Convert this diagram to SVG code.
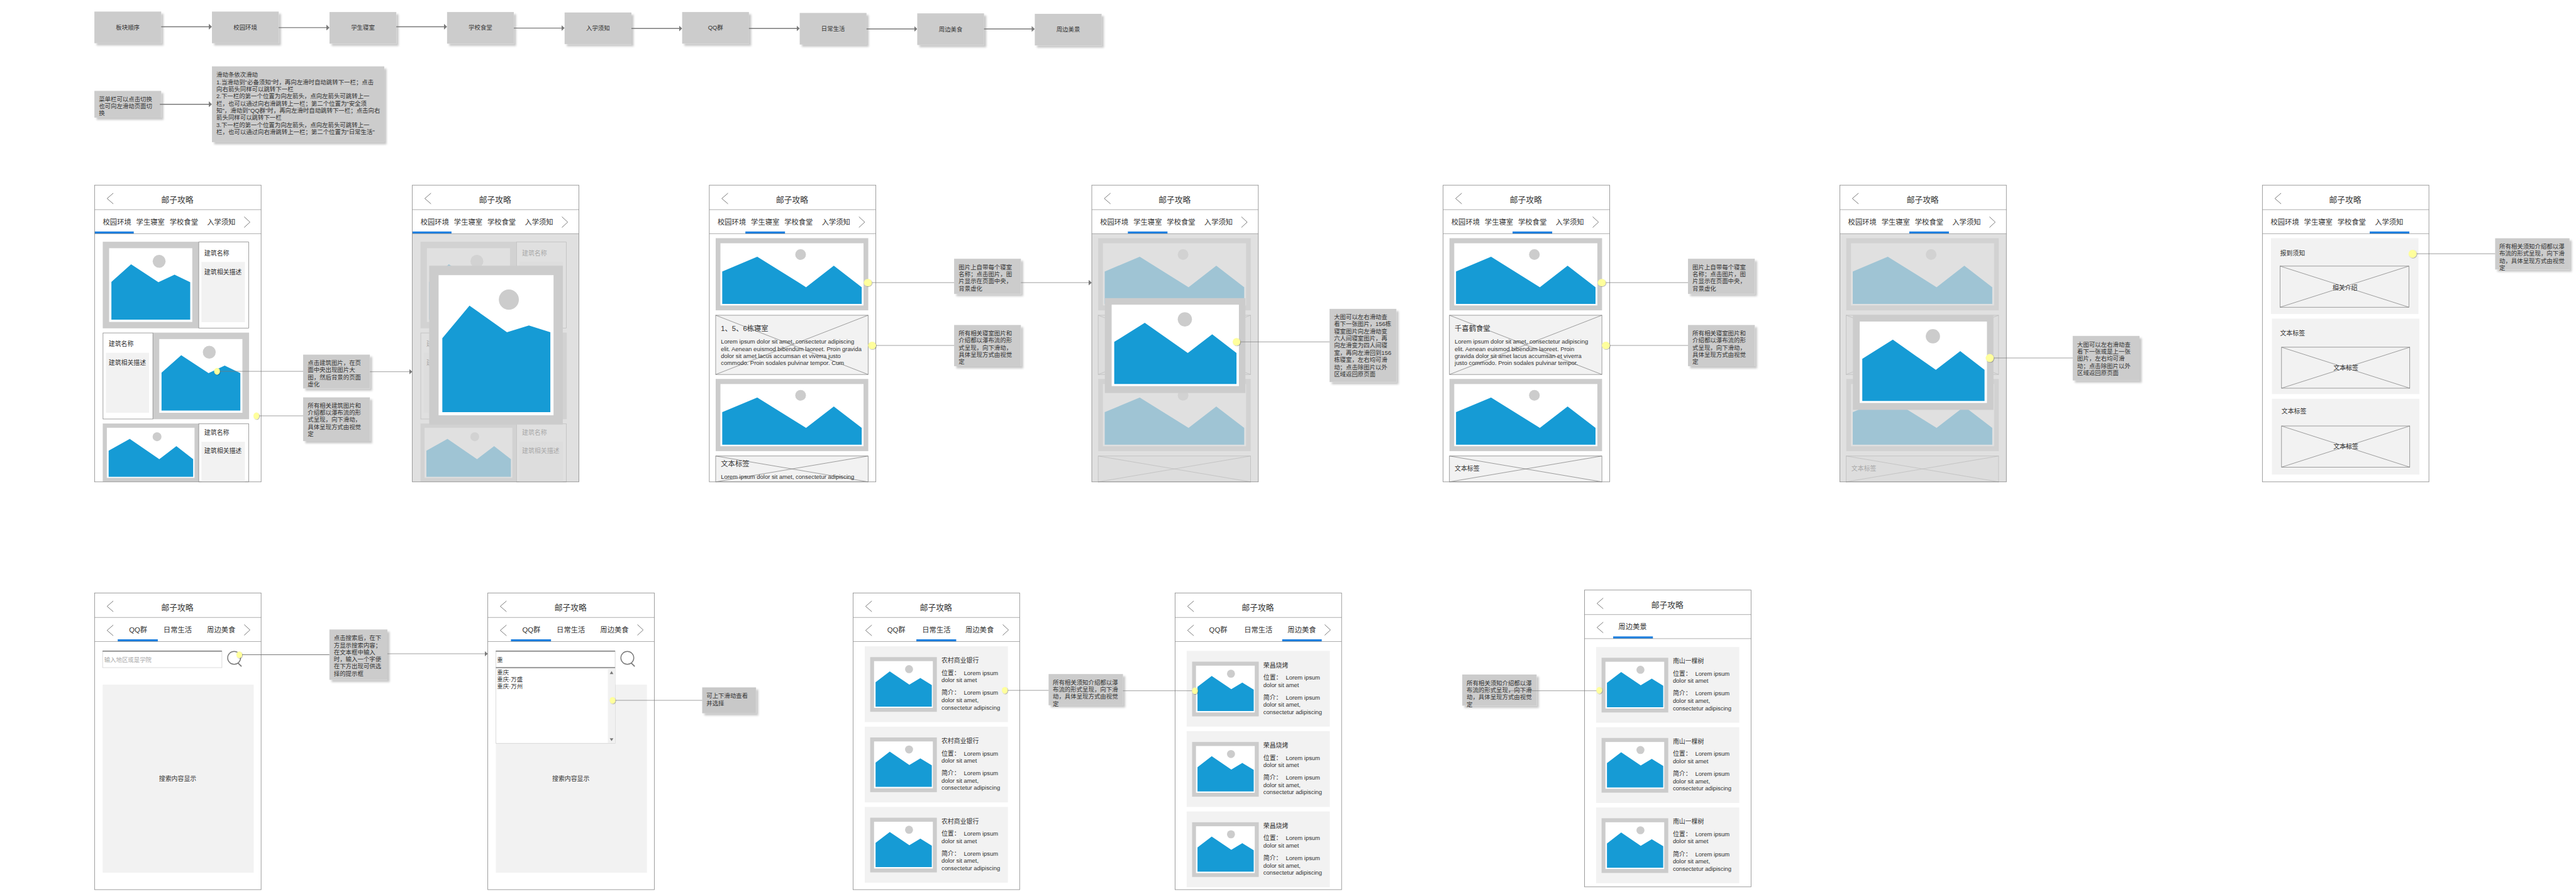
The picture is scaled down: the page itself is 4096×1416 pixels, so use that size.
<svg xmlns="http://www.w3.org/2000/svg" width="4096" height="1416" viewBox="0 0 4096 1416">
<style>
text{font-family:"Liberation Sans","Noto Sans CJK SC",sans-serif;fill:#333;dominant-baseline:central}
.m{text-anchor:middle}
.t18{font-size:18px}.t16{font-size:16px}.t14{font-size:14px}.n{font-size:13.33px}.la{font-size:13.33px}
.box{fill:#ccc;filter:url(#sh)}
.fr{fill:#fff;stroke:none}
.edge{fill:none;stroke:#8c8c8c;stroke-width:1.2}
.ln{stroke:#797979;stroke-width:1;fill:none}
.chev{stroke:#797979;stroke-width:1.4;fill:none}
.blue{fill:#1e80e0}
.gr{fill:#ccc}.wh{fill:#fff}.lt{fill:#f2f2f2}.mt{fill:#169bd5}
.xb{fill:#f2f2f2;stroke:#797979;stroke-width:1}
.pn{fill:#fff;stroke:#797979;stroke-width:1}
.ov{fill:rgba(212,212,212,.72)}
.flow{stroke:#797979;stroke-width:2;fill:none;marker-end:url(#ah)}
.con{stroke:#797979;stroke-width:1;fill:none}
.arr{stroke:#797979;stroke-width:1;fill:none;marker-end:url(#ah2)}
.dot{fill:#ffff9c;filter:url(#ds)}
</style>
<defs>
<filter id="sh" x="-20%" y="-20%" width="140%" height="140%"><feDropShadow dx="5" dy="5" stdDeviation="2.5" flood-color="#000" flood-opacity=".22"/></filter>
<filter id="ds" x="-50%" y="-50%" width="200%" height="200%"><feDropShadow dx="1" dy="1" stdDeviation="1" flood-color="#000" flood-opacity=".4"/></filter>
<marker id="ah" markerUnits="userSpaceOnUse" markerWidth="7" markerHeight="13" refX="2" refY="6.5" orient="auto"><path d="M0 0L7 6.5L0 13Z" fill="#797979"/></marker>
<marker id="ah2" markerUnits="userSpaceOnUse" markerWidth="7" markerHeight="13" refX="2" refY="6.5" orient="auto"><path d="M0 0.5L7 6.5L0 12.5Z" fill="#797979"/></marker>
<g id="shell"><rect class="fr" width="374" height="666"/></g>
<g id="edge"><rect class="edge" width="374" height="666"/><path class="ln" d="M0 55H374M0 109H374" style="stroke:#8c8c8c"/></g>
<path id="back" class="chev" d="M42 18L28 30L42 42"/>
<path id="chev-r" class="chev" d="M336 71L349 83L336 95"/>
<path id="chev-l" class="chev" d="M42 72L28 84L42 96"/>
<g id="img-a"><rect class="gr" width="216" height="194.4"/><rect class="wh" x="14.3" y="14.5" width="186.7" height="165.5"/><ellipse class="gr" cx="126.6" cy="44" rx="14.5" ry="14.5"/><polygon class="mt" points="19.4,90 63.6,50.7 125,90.9 161.2,73.9 196.4,90.9 196.4,175 19.4,175"/></g>
<g id="img-c"><rect class="gr" width="215.6" height="131"/><rect class="wh" x="9.2" y="9.6" width="196.9" height="112.4"/><ellipse class="gr" cx="121.9" cy="29.7" rx="10" ry="10"/><polygon class="mt" points="13.2,61 60.6,34.6 127,80 165.3,50.7 203,80 203,119.5 13.2,119.5"/></g>
<g id="img-w"><rect class="gr" width="342.7" height="162"/><rect class="wh" x="10.7" y="11.4" width="321.4" height="139.6"/><ellipse class="gr" cx="190.7" cy="36.8" rx="12" ry="12"/><polygon class="mt" points="14.7,74.7 93.4,41.7 203,110 265.3,61.8 328,110 328,147.5 14.7,147.5"/></g>
<g id="img-p"><rect class="gr" width="315.7" height="212.9"/><rect class="wh" x="15.3" y="14.7" width="285.8" height="182.7"/><ellipse class="gr" cx="179.7" cy="47.7" rx="16" ry="16"/><polygon class="mt" points="21.1,98.2 89.7,55.4 186.3,123.2 241.1,81.2 295.7,123.2 295.7,192.8 21.1,192.8"/></g>
<g id="img-s"><rect class="gr" width="149.7" height="122.8"/><rect class="wh" x="8.7" y="9" width="132" height="105"/><ellipse class="gr" cx="87.3" cy="27" rx="9" ry="9"/><polygon class="mt" points="12.1,56.5 44,32 88,61.8 112.7,47 138.4,62.7 138.4,111 12.1,111"/></g>
<g id="search"><circle class="chev" cx="313.4" cy="145.7" r="14.5" style="stroke-width:2"/><path class="chev" d="M322 157L330 165" style="stroke-width:2.5"/></g>
</defs>
<rect width="4096" height="1416" fill="#fff"/>
<g transform="scale(0.708)">
<g id="flow-nodes">
<g id="flow-1"><rect class="box" x="212" y="26" width="150" height="71"/><text class="n m" x="287" y="61">板块顺序</text></g>
<g id="flow-2"><rect class="box" x="476" y="26" width="150" height="71"/><text class="n m" x="551" y="61">校园环境</text></g>
<g id="flow-3"><rect class="box" x="740" y="27" width="150" height="71"/><text class="n m" x="815" y="62">学生寝室</text></g>
<g id="flow-4"><rect class="box" x="1004" y="27" width="150" height="71"/><text class="n m" x="1079" y="62">学校食堂</text></g>
<g id="flow-5"><rect class="box" x="1268" y="28" width="150" height="71"/><text class="n m" x="1343" y="63">入学须知</text></g>
<g id="flow-6"><rect class="box" x="1532" y="27" width="150" height="71"/><text class="n m" x="1607" y="62">QQ群</text></g>
<g id="flow-7"><rect class="box" x="1796" y="29" width="150" height="71"/><text class="n m" x="1871" y="64">日常生活</text></g>
<g id="flow-8"><rect class="box" x="2060" y="30" width="150" height="71"/><text class="n m" x="2135" y="65">周边美食</text></g>
<g id="flow-9"><rect class="box" x="2324" y="31" width="150" height="71"/><text class="n m" x="2399" y="66">周边美景</text></g>
<g id="note-menu"><rect class="box" x="212" y="204" width="150" height="60"/><text class="n" x="222" y="222">菜单栏可以点击切换</text><text class="n" x="222" y="238">也可向左滑动页面切</text><text class="n" x="222" y="254">换</text></g>
<g id="note-slide"><rect class="box" x="476" y="149" width="387" height="170"/>
<text class="n" x="486" y="168">滑动条依次滑动</text>
<text class="n" x="486" y="184">1.当滑动到"必备须知"时，再向左滑时自动跳转下一栏；点击</text>
<text class="n" x="486" y="200">向右箭头同样可以跳转下一栏</text>
<text class="n" x="486" y="216">2.下一栏的第一个位置为向左箭头，点向左箭头可跳转上一</text>
<text class="n" x="486" y="232">栏，也可以通过向右滑跳转上一栏；第二个位置为"安全须</text>
<text class="n" x="486" y="248">知"，滑动到"QQ群"时，再向左滑时自动跳转下一栏；点击向右</text>
<text class="n" x="486" y="264">箭头同样可以跳转下一栏</text>
<text class="n" x="486" y="280">3.下一栏的第一个位置为向左箭头，点向左箭头可跳转上一</text>
<text class="n" x="486" y="296">栏，也可以通过向右滑跳转上一栏；第二个位置为"日常生活"</text></g>
</g>

<g id="screen-1" transform="translate(212.4,415.6)">
<use href="#shell"/><use href="#back"/><use href="#chev-r"/>
<text class="t18 m" x="186" y="33">邮子攻略</text>
<text class="t16 m" x="50.5" y="83">校园环境</text><text class="t16 m" x="125.5" y="83">学生寝室</text><text class="t16 m" x="200.5" y="83">学校食堂</text><text class="t16 m" x="284.5" y="83">入学须知</text>
<rect class="blue" x="0" y="104" width="88" height="5"/>
<use href="#img-a" x="18.4" y="127"/>
<rect class="pn" x="234" y="127.7" width="112" height="193.3"/><text class="t14" x="246.4" y="153">建筑名称</text><rect class="lt" x="240" y="172.3" width="97.8" height="135.3"/><text class="t14" x="246.4" y="194.7">建筑相关描述</text>
<use href="#img-a" x="131" y="331"/>
<rect class="pn" x="19" y="331.7" width="112" height="193.3"/><text class="t14" x="31.6" y="357">建筑名称</text><rect class="lt" x="25.5" y="376.3" width="96.9" height="134.7"/><text class="t14" x="31.6" y="398.7">建筑相关描述</text>
<use href="#img-c" x="18.4" y="535"/>
<rect class="pn" x="234" y="535.7" width="112" height="130.3"/><text class="t14" x="246.4" y="555">建筑名称</text><rect class="lt" x="240" y="576" width="97.8" height="90"/><text class="t14" x="246.4" y="597">建筑相关描述</text>
<use href="#edge"/>
</g>

<g id="screen-2" transform="translate(926,415.6)">
<use href="#shell"/><use href="#back"/><use href="#chev-r"/>
<text class="t18 m" x="186" y="33">邮子攻略</text>
<text class="t16 m" x="50.5" y="83">校园环境</text><text class="t16 m" x="125.5" y="83">学生寝室</text><text class="t16 m" x="200.5" y="83">学校食堂</text><text class="t16 m" x="284.5" y="83">入学须知</text>
<rect class="blue" x="0" y="104" width="88" height="5"/>
<use href="#img-a" x="18.4" y="127"/>
<rect class="pn" x="234" y="127.7" width="112" height="193.3"/><text class="t14" x="246.4" y="153">建筑名称</text><rect class="lt" x="240" y="172.3" width="97.8" height="135.3"/>
<use href="#img-a" x="131" y="331"/>
<rect class="pn" x="19" y="331.7" width="112" height="193.3"/><text class="t14" x="31.6" y="357">建筑名称</text><rect class="lt" x="25.5" y="376.3" width="96.9" height="134.7"/><text class="t14" x="31.6" y="398.7">建筑相关描述</text>
<use href="#img-c" x="18.4" y="535"/>
<rect class="pn" x="234" y="535.7" width="112" height="130.3"/><text class="t14" x="246.4" y="555">建筑名称</text><rect class="lt" x="240" y="576" width="97.8" height="90"/><text class="t14" x="246.4" y="597">建筑相关描述</text>
<rect class="ov" x="0" y="109" width="374" height="557"/>
<rect class="gr" x="37.9" y="180.8" width="300.1" height="356.7"/><rect class="wh" x="59" y="202" width="258.2" height="314.5"/><ellipse class="gr" cx="216.8" cy="257" rx="22.5" ry="22.8"/><polygon class="mt" points="67.4,343.7 128.4,270.5 212.6,330 261.8,315 310,330 310,509.4 67.4,509.4"/>
<use href="#edge"/>
</g>

<g id="screen-3" transform="translate(1593,415.6)">
<use href="#shell"/><use href="#back"/><use href="#chev-r"/>
<text class="t18 m" x="186" y="33">邮子攻略</text>
<text class="t16 m" x="50.5" y="83">校园环境</text><text class="t16 m" x="125.5" y="83">学生寝室</text><text class="t16 m" x="200.5" y="83">学校食堂</text><text class="t16 m" x="284.5" y="83">入学须知</text>
<rect class="blue" x="81" y="104" width="89" height="5"/>
<use href="#img-w" x="14.3" y="119"/>
<rect class="xb" x="14.3" y="292" width="342.3" height="133"/><path class="ln" d="M14.3 292L356.6 425M356.6 292L14.3 425"/>
<text class="t16" x="26" y="322.3">1、5、6栋寝室</text>
<text class="la" x="26" y="351">Lorem ipsum dolor sit amet, consectetur adipiscing</text><text class="la" x="26" y="367">elit. Aenean euismod bibendum laoreet. Proin gravida</text><text class="la" x="26" y="383">dolor sit amet lacus accumsan et viverra justo</text><text class="la" x="26" y="399">commodo. Proin sodales pulvinar tempor. Cum</text>
<use href="#img-w" x="14.3" y="435"/>
<rect class="xb" x="14.3" y="608" width="342.3" height="58"/><path class="ln" d="M14.3 608L356.6 666M356.6 608L14.3 666"/>
<text class="t16" x="26" y="625">文本标签</text><text class="la" x="26" y="654">Lorem ipsum dolor sit amet, consectetur adipiscing</text>
<use href="#edge"/>
</g>

<g id="screen-4" transform="translate(2452,415.6)">
<use href="#shell"/><use href="#back"/><use href="#chev-r"/>
<text class="t18 m" x="186" y="33">邮子攻略</text>
<text class="t16 m" x="50.5" y="83">校园环境</text><text class="t16 m" x="125.5" y="83">学生寝室</text><text class="t16 m" x="200.5" y="83">学校食堂</text><text class="t16 m" x="284.5" y="83">入学须知</text>
<rect class="blue" x="81" y="104" width="89" height="5"/>
<use href="#img-w" x="14.3" y="119"/>
<rect class="xb" x="14.3" y="292" width="342.3" height="133"/><path class="ln" d="M14.3 292L356.6 425M356.6 292L14.3 425"/>
<use href="#img-w" x="14.3" y="435"/>
<rect class="xb" x="14.3" y="608" width="342.3" height="58"/><path class="ln" d="M14.3 608L356.6 666M356.6 608L14.3 666"/>
<rect class="ov" x="0" y="109" width="374" height="557"/>
<use href="#img-p" x="29.3" y="253.6"/>
<use href="#edge"/>
</g>

<g id="screen-5" transform="translate(3241,415.6)">
<use href="#shell"/><use href="#back"/><use href="#chev-r"/>
<text class="t18 m" x="186" y="33">邮子攻略</text>
<text class="t16 m" x="50.5" y="83">校园环境</text><text class="t16 m" x="125.5" y="83">学生寝室</text><text class="t16 m" x="200.5" y="83">学校食堂</text><text class="t16 m" x="284.5" y="83">入学须知</text>
<rect class="blue" x="156" y="104" width="89" height="5"/>
<use href="#img-w" x="14.3" y="119"/>
<rect class="xb" x="14.3" y="292" width="342.3" height="133"/><path class="ln" d="M14.3 292L356.6 425M356.6 292L14.3 425"/>
<text class="t16" x="26" y="322.3">千喜鹤食堂</text>
<text class="la" x="26" y="351">Lorem ipsum dolor sit amet, consectetur adipiscing</text><text class="la" x="26" y="367">elit. Aenean euismod bibendum laoreet. Proin</text><text class="la" x="26" y="383">gravida dolor sit amet lacus accumsan et viverra</text><text class="la" x="26" y="399">justo commodo. Proin sodales pulvinar tempor.</text>
<use href="#img-w" x="14.3" y="435"/>
<rect class="xb" x="14.3" y="608" width="342.3" height="58"/><path class="ln" d="M14.3 608L356.6 666M356.6 608L14.3 666"/>
<text class="t14" x="26" y="636">文本标签</text>
<use href="#edge"/>
</g>

<g id="screen-6" transform="translate(4132,415.6)">
<use href="#shell"/><use href="#back"/><use href="#chev-r"/>
<text class="t18 m" x="186" y="33">邮子攻略</text>
<text class="t16 m" x="50.5" y="83">校园环境</text><text class="t16 m" x="125.5" y="83">学生寝室</text><text class="t16 m" x="200.5" y="83">学校食堂</text><text class="t16 m" x="284.5" y="83">入学须知</text>
<rect class="blue" x="156" y="104" width="89" height="5"/>
<use href="#img-w" x="14.3" y="119"/>
<rect class="xb" x="14.3" y="292" width="342.3" height="133"/><path class="ln" d="M14.3 292L356.6 425M356.6 292L14.3 425"/>
<use href="#img-w" x="14.3" y="435"/>
<rect class="xb" x="14.3" y="608" width="342.3" height="58"/><path class="ln" d="M14.3 608L356.6 666M356.6 608L14.3 666"/>
<text class="t14" x="26" y="636">文本标签</text>
<rect class="ov" x="0" y="109" width="374" height="557"/>
<use href="#img-p" x="29.3" y="291.5"/>
<use href="#edge"/>
</g>

<g id="screen-7" transform="translate(5081,415.6)">
<use href="#shell"/><use href="#back"/>
<text class="t18 m" x="186" y="33">邮子攻略</text>
<text class="t16 m" x="50.5" y="83">校园环境</text><text class="t16 m" x="125.5" y="83">学生寝室</text><text class="t16 m" x="200.5" y="83">学校食堂</text><text class="t16 m" x="284.5" y="83">入学须知</text>
<rect class="blue" x="241" y="104" width="89" height="5"/>
<rect class="lt" x="19.3" y="119" width="331.2" height="170.3"/><text class="t14" x="39.7" y="153.6">报到须知</text>
<rect class="xb" x="39.7" y="181.7" width="289.3" height="92.3"/><path class="ln" d="M39.7 181.7L329 274M329 181.7L39.7 274"/><text class="t14 m" x="185.4" y="230">相关介绍</text>
<rect class="lt" x="21.4" y="299.6" width="331.2" height="169.4"/><text class="t14" x="39.7" y="332">文本标签</text>
<rect class="xb" x="43" y="363.8" width="288" height="92"/><path class="ln" d="M43 363.8L331 455.8M331 363.8L43 455.8"/><text class="t14 m" x="187.5" y="409.4">文本标签</text>
<rect class="lt" x="21.4" y="479.5" width="331.2" height="170.1"/><text class="t14" x="43" y="508">文本标签</text>
<rect class="xb" x="43" y="540.6" width="288" height="92.4"/><path class="ln" d="M43 540.6L331 633M331 540.6L43 633"/><text class="t14 m" x="187.5" y="586.6">文本标签</text>
<use href="#edge"/>
</g>

<g id="screen-a" transform="translate(212.4,1331)">
<use href="#shell"/><use href="#back"/><use href="#chev-l"/><use href="#chev-r"/>
<text class="t18 m" x="186" y="33">邮子攻略</text>
<text class="t16 m" x="97.8" y="83.4">QQ群</text><text class="t16 m" x="186.6" y="83.4">日常生活</text><text class="t16 m" x="284.4" y="83.4">周边美食</text>
<rect class="blue" x="52" y="104" width="90" height="5"/>
<rect x="18" y="130.6" width="268" height="37" fill="#fff" stroke="#ccc"/><path class="ln" d="M18 130.6H286" style="stroke-width:2"/>
<text class="n" x="21.6" y="150.5" style="fill:#aaa">输入地区或是学院</text>
<use href="#search"/>
<rect class="lt" x="18.2" y="205.8" width="339.2" height="422.1"/><text class="t14 m" x="186.6" y="416.8">搜索内容显示</text>
<use href="#edge"/>
</g>

<g id="screen-b" transform="translate(1095.5,1331)">
<use href="#shell"/><use href="#back"/><use href="#chev-l"/><use href="#chev-r"/>
<text class="t18 m" x="186" y="33">邮子攻略</text>
<text class="t16 m" x="97.8" y="83.4">QQ群</text><text class="t16 m" x="186.6" y="83.4">日常生活</text><text class="t16 m" x="284.4" y="83.4">周边美食</text>
<rect class="blue" x="52" y="104" width="90" height="5"/>
<rect class="lt" x="18.2" y="205.8" width="339.2" height="422.1"/><text class="t14 m" x="186.6" y="416.8">搜索内容显示</text>
<rect x="18" y="130.6" width="268" height="37" fill="#fff" stroke="#ccc"/><path class="ln" d="M18 130.6H286M18 167.6H286" style="stroke-width:2"/>
<text class="n" x="20.7" y="150.5">重</text>
<use href="#search"/>
<rect x="18" y="169" width="268" height="168.4" fill="#fff" stroke="#ccc"/>
<rect x="269.7" y="169.5" width="16" height="167.5" fill="#f1f1f1"/>
<polygon points="274,182 282,182 278,175.5" fill="#797979"/><polygon points="274,326 282,326 278,332.5" fill="#797979"/>
<text class="n" x="20.7" y="177.7">重庆</text><text class="n" x="20.7" y="193.5">重庆·万盛</text><text class="n" x="20.7" y="209.7">重庆·万州</text>
<use href="#edge"/>
</g>

<g id="screen-c" transform="translate(1916,1331)">
<use href="#shell"/><use href="#back"/><use href="#chev-l"/><use href="#chev-r"/>
<text class="t18 m" x="186" y="33">邮子攻略</text>
<text class="t16 m" x="97" y="83.4">QQ群</text><text class="t16 m" x="187" y="83.4">日常生活</text><text class="t16 m" x="284" y="83.4">周边美食</text>
<rect class="blue" x="142" y="104" width="89.5" height="5"/>
<g><rect class="lt" x="26" y="119.8" width="321.6" height="170"/><use href="#img-s" x="38.3" y="144"/><text class="t14" x="198.3" y="151.8">农村商业银行</text><text class="t14" x="198.3" y="179.5">位置：</text><text class="la" x="248.7" y="179.5">Lorem ipsum</text><text class="la" x="198.3" y="195.7">dolor sit amet</text><text class="t14" x="198.3" y="224">简介：</text><text class="la" x="248.7" y="224">Lorem ipsum</text><text class="la" x="198.3" y="240.5">dolor sit amet,</text><text class="la" x="198.3" y="256.7">consectetur adipiscing</text></g>
<g transform="translate(0,180.3)"><rect class="lt" x="26" y="119.8" width="321.6" height="170"/><use href="#img-s" x="38.3" y="144"/><text class="t14" x="198.3" y="151.8">农村商业银行</text><text class="t14" x="198.3" y="179.5">位置：</text><text class="la" x="248.7" y="179.5">Lorem ipsum</text><text class="la" x="198.3" y="195.7">dolor sit amet</text><text class="t14" x="198.3" y="224">简介：</text><text class="la" x="248.7" y="224">Lorem ipsum</text><text class="la" x="198.3" y="240.5">dolor sit amet,</text><text class="la" x="198.3" y="256.7">consectetur adipiscing</text></g>
<g transform="translate(0,360.5)"><rect class="lt" x="26" y="119.8" width="321.6" height="170"/><use href="#img-s" x="38.3" y="144"/><text class="t14" x="198.3" y="151.8">农村商业银行</text><text class="t14" x="198.3" y="179.5">位置：</text><text class="la" x="248.7" y="179.5">Lorem ipsum</text><text class="la" x="198.3" y="195.7">dolor sit amet</text><text class="t14" x="198.3" y="224">简介：</text><text class="la" x="248.7" y="224">Lorem ipsum</text><text class="la" x="198.3" y="240.5">dolor sit amet,</text><text class="la" x="198.3" y="256.7">consectetur adipiscing</text></g>
<use href="#edge"/>
</g>

<g id="screen-d" transform="translate(2639,1331)">
<use href="#shell"/><use href="#back"/><use href="#chev-l"/><use href="#chev-r"/>
<text class="t18 m" x="186" y="33">邮子攻略</text>
<text class="t16 m" x="97" y="83.4">QQ群</text><text class="t16 m" x="187" y="83.4">日常生活</text><text class="t16 m" x="284.7" y="83.4">周边美食</text>
<rect class="blue" x="240.6" y="104" width="88.8" height="5"/>
<g transform="translate(0,10.2)"><rect class="lt" x="26" y="119.8" width="321.6" height="170"/><use href="#img-s" x="38.3" y="144"/><text class="t14" x="198.3" y="151.8">荣昌烧烤</text><text class="t14" x="198.3" y="179.5">位置：</text><text class="la" x="248.7" y="179.5">Lorem ipsum</text><text class="la" x="198.3" y="195.7">dolor sit amet</text><text class="t14" x="198.3" y="224">简介：</text><text class="la" x="248.7" y="224">Lorem ipsum</text><text class="la" x="198.3" y="240.5">dolor sit amet,</text><text class="la" x="198.3" y="256.7">consectetur adipiscing</text></g>
<g transform="translate(0,190.5)"><rect class="lt" x="26" y="119.8" width="321.6" height="170"/><use href="#img-s" x="38.3" y="144"/><text class="t14" x="198.3" y="151.8">荣昌烧烤</text><text class="t14" x="198.3" y="179.5">位置：</text><text class="la" x="248.7" y="179.5">Lorem ipsum</text><text class="la" x="198.3" y="195.7">dolor sit amet</text><text class="t14" x="198.3" y="224">简介：</text><text class="la" x="248.7" y="224">Lorem ipsum</text><text class="la" x="198.3" y="240.5">dolor sit amet,</text><text class="la" x="198.3" y="256.7">consectetur adipiscing</text></g>
<g transform="translate(0,370.7)"><rect class="lt" x="26" y="119.8" width="321.6" height="170"/><use href="#img-s" x="38.3" y="144"/><text class="t14" x="198.3" y="151.8">荣昌烧烤</text><text class="t14" x="198.3" y="179.5">位置：</text><text class="la" x="248.7" y="179.5">Lorem ipsum</text><text class="la" x="198.3" y="195.7">dolor sit amet</text><text class="t14" x="198.3" y="224">简介：</text><text class="la" x="248.7" y="224">Lorem ipsum</text><text class="la" x="198.3" y="240.5">dolor sit amet,</text><text class="la" x="198.3" y="256.7">consectetur adipiscing</text></g>
<use href="#edge"/>
</g>

<g id="screen-e" transform="translate(3558.6,1324.5)">
<use href="#shell"/><use href="#back"/><use href="#chev-l"/>
<text class="t18 m" x="186" y="33">邮子攻略</text>
<text class="t16 m" x="108" y="83">周边美景</text>
<rect class="blue" x="64.3" y="104" width="89.3" height="5"/>
<g transform="translate(0,7.9)"><rect class="lt" x="26" y="119.8" width="321.6" height="170"/><use href="#img-s" x="38.3" y="144"/><text class="t14" x="198.3" y="151.8">南山一棵树</text><text class="t14" x="198.3" y="179.5">位置：</text><text class="la" x="248.7" y="179.5">Lorem ipsum</text><text class="la" x="198.3" y="195.7">dolor sit amet</text><text class="t14" x="198.3" y="224">简介：</text><text class="la" x="248.7" y="224">Lorem ipsum</text><text class="la" x="198.3" y="240.5">dolor sit amet,</text><text class="la" x="198.3" y="256.7">consectetur adipiscing</text></g>
<g transform="translate(0,188)"><rect class="lt" x="26" y="119.8" width="321.6" height="170"/><use href="#img-s" x="38.3" y="144"/><text class="t14" x="198.3" y="151.8">南山一棵树</text><text class="t14" x="198.3" y="179.5">位置：</text><text class="la" x="248.7" y="179.5">Lorem ipsum</text><text class="la" x="198.3" y="195.7">dolor sit amet</text><text class="t14" x="198.3" y="224">简介：</text><text class="la" x="248.7" y="224">Lorem ipsum</text><text class="la" x="198.3" y="240.5">dolor sit amet,</text><text class="la" x="198.3" y="256.7">consectetur adipiscing</text></g>
<g transform="translate(0,368.2)"><rect class="lt" x="26" y="119.8" width="321.6" height="170"/><use href="#img-s" x="38.3" y="144"/><text class="t14" x="198.3" y="151.8">南山一棵树</text><text class="t14" x="198.3" y="179.5">位置：</text><text class="la" x="248.7" y="179.5">Lorem ipsum</text><text class="la" x="198.3" y="195.7">dolor sit amet</text><text class="t14" x="198.3" y="224">简介：</text><text class="la" x="248.7" y="224">Lorem ipsum</text><text class="la" x="198.3" y="240.5">dolor sit amet,</text><text class="la" x="198.3" y="256.7">consectetur adipiscing</text></g>
<use href="#edge"/>
</g>

<g id="notes">
<g id="note-1"><rect class="box" x="680.8" y="796" width="150" height="76"/><text class="n" x="691" y="814.3">点击建筑图片，在页</text><text class="n" x="691" y="830.3">面中央出现图片大</text><text class="n" x="691" y="846.4">图，然后背景的页面</text><text class="n" x="691" y="862.5">虚化</text></g>
<g id="note-2"><rect class="box" x="680.8" y="892" width="150" height="98"/><text class="n" x="691" y="910">所有相关建筑图片和</text><text class="n" x="691" y="926">介绍都以瀑布流的形</text><text class="n" x="691" y="942">式呈现，向下滑动，</text><text class="n" x="691" y="958.5">具体呈现方式由视觉</text><text class="n" x="691" y="974.5">定</text></g>
<g id="note-3"><rect class="box" x="2142.8" y="580.8" width="150" height="79"/><text class="n" x="2153" y="599">图片上自带每个寝室</text><text class="n" x="2153" y="615">名称；点击图片，图</text><text class="n" x="2153" y="631">片显示在页面中央，</text><text class="n" x="2153" y="647">背景虚化</text></g>
<g id="note-4"><rect class="box" x="2142.8" y="729.5" width="150" height="92.4"/><text class="n" x="2153" y="747.8">所有相关寝室图片和</text><text class="n" x="2153" y="763.8">介绍都以瀑布流的形</text><text class="n" x="2153" y="780">式呈现，向下滑动，</text><text class="n" x="2153" y="796">具体呈现方式由视觉</text><text class="n" x="2153" y="812">定</text></g>
<g id="note-5"><rect class="box" x="2986" y="693.3" width="150" height="164.3"/><text class="n" x="2996" y="711">大图可以左右滑动查</text><text class="n" x="2996" y="727">看下一张图片，156栋</text><text class="n" x="2996" y="743">寝室图片向左滑动变</text><text class="n" x="2996" y="759">六人间寝室图片，再</text><text class="n" x="2996" y="775.4">向左滑变为四人间寝</text><text class="n" x="2996" y="791.5">室，再向左滑回到156</text><text class="n" x="2996" y="807.6">栋寝室，左右均可滑</text><text class="n" x="2996" y="823.7">动；点击除图片以外</text><text class="n" x="2996" y="839.7">区域返回原页面</text></g>
<g id="note-6"><rect class="box" x="3791" y="580.8" width="150" height="79"/><text class="n" x="3801" y="599">图片上自带每个寝室</text><text class="n" x="3801" y="615">名称；点击图片，图</text><text class="n" x="3801" y="631">片显示在页面中央，</text><text class="n" x="3801" y="647">背景虚化</text></g>
<g id="note-7"><rect class="box" x="3791" y="729.5" width="150" height="92.4"/><text class="n" x="3801" y="747.8">所有相关寝室图片和</text><text class="n" x="3801" y="763.8">介绍都以瀑布流的形</text><text class="n" x="3801" y="780">式呈现，向下滑动，</text><text class="n" x="3801" y="796">具体呈现方式由视觉</text><text class="n" x="3801" y="812">定</text></g>
<g id="note-8"><rect class="box" x="4655" y="754" width="150" height="100"/><text class="n" x="4665" y="772.8">大图可以左右滑动查</text><text class="n" x="4665" y="788.8">看下一张或是上一张</text><text class="n" x="4665" y="805">图片，左右均可滑</text><text class="n" x="4665" y="821">动；点击除图片以外</text><text class="n" x="4665" y="837">区域返回原页面</text></g>
<g id="note-9"><rect class="box" x="5603.7" y="534.8" width="167" height="70.2"/><text class="n" x="5613" y="553">所有相关须知介绍都以瀑</text><text class="n" x="5613" y="569">布流的形式呈现，向下滑</text><text class="n" x="5613" y="585">动，具体呈现方式由视觉</text><text class="n" x="5613" y="601">定</text></g>
<g id="note-10"><rect class="box" x="739.8" y="1413" width="130.2" height="113"/><text class="n" x="749.7" y="1432">点击搜索后，在下</text><text class="n" x="749.7" y="1447.8">方显示搜索内容；</text><text class="n" x="749.7" y="1463.6">在文本框中输入</text><text class="n" x="749.7" y="1479.4">时，输入一个字便</text><text class="n" x="749.7" y="1495.6">在下方出现可供选</text><text class="n" x="749.7" y="1511.4">择的提示框</text></g>
<g id="note-11"><rect class="box" x="1577" y="1543" width="121" height="58" style="fill:#c8c8c8"/><text class="n" x="1586.5" y="1561.4">可上下滑动查看</text><text class="n" x="1586.5" y="1577.7">并选择</text></g>
<g id="note-12"><rect class="box" x="2355" y="1513" width="167" height="70"/><text class="n" x="2364.4" y="1531.6">所有相关须知介绍都以瀑</text><text class="n" x="2364.4" y="1547.4">布流的形式呈现，向下滑</text><text class="n" x="2364.4" y="1563">动，具体呈现方式由视觉</text><text class="n" x="2364.4" y="1580">定</text></g>
<g id="note-13"><rect class="box" x="3284" y="1514" width="167" height="70"/><text class="n" x="3293.8" y="1532.5">所有相关须知介绍都以瀑</text><text class="n" x="3293.8" y="1548.3">布流的形式呈现，向下滑</text><text class="n" x="3293.8" y="1564.5">动，具体呈现方式由视觉</text><text class="n" x="3293.8" y="1580.7">定</text></g>
</g>

<g id="connectors">
<path class="flow" d="M362 60H471"/><path class="flow" d="M626 62H735"/><path class="flow" d="M890 60H999"/><path class="flow" d="M1154 63H1263"/><path class="flow" d="M1418 64H1527"/><path class="flow" d="M1682 64H1791"/><path class="flow" d="M1946 65H2055"/><path class="flow" d="M2210 65H2319"/>
<path class="flow" d="M359 234H471"/>
<path class="con" d="M487.4 833.5H680.8"/><path class="arr" d="M830.8 834.4H921"/>
<path class="con" d="M575.7 933.5H680.8"/>
<path class="con" d="M1949 634.4H2142.8"/><path class="arr" d="M2292.8 634.4H2447"/>
<path class="con" d="M1958.6 775.4H2142.8"/>
<path class="con" d="M2777 767.4H2986"/>
<path class="con" d="M3597.3 634.4H3791"/><path class="con" d="M3606.5 775.4H3791"/>
<path class="con" d="M4468.7 803.6H4655"/>
<path class="con" d="M5418.3 569.6H5603.7"/>
<path class="con" d="M537.4 1469.7H739.8" style="stroke-width:1.5"/><path class="arr" d="M870 1467.5H1090.5"/>
<path class="con" d="M1375.7 1572H1577"/>
<path class="con" d="M2256.6 1549.6H2355"/><path class="con" d="M2522 1550.5H2683.6"/>
<path class="con" d="M3388 1550.5H3591.7"/>
</g>

<g id="hotspots">
<ellipse class="dot" cx="487.4" cy="833.5" rx="6.5" ry="7.5"/><ellipse class="dot" cx="575.7" cy="933.5" rx="6.5" ry="7.5"/>
<ellipse class="dot" cx="1949" cy="634.4" rx="9" ry="8.3"/><ellipse class="dot" cx="1958.6" cy="775.4" rx="9" ry="8.3"/>
<ellipse class="dot" cx="2777" cy="767.4" rx="8.5" ry="8.5"/>
<ellipse class="dot" cx="3597.3" cy="634.4" rx="9" ry="8.3"/><ellipse class="dot" cx="3606.5" cy="775.4" rx="9" ry="8.3"/>
<ellipse class="dot" cx="4468.7" cy="803.6" rx="9" ry="9"/><ellipse class="dot" cx="5418.3" cy="569.6" rx="9" ry="9"/>
<ellipse class="dot" cx="537.4" cy="1469.7" rx="6.5" ry="7.5"/><ellipse class="dot" cx="1375.7" cy="1572" rx="6.5" ry="7.5"/>
<ellipse class="dot" cx="2256.6" cy="1549.6" rx="6.5" ry="7.5"/><ellipse class="dot" cx="2683.6" cy="1550.5" rx="6.5" ry="7.5"/>
<ellipse class="dot" cx="3591.7" cy="1549.6" rx="6.5" ry="7.5"/>
</g>
</g>
</svg>
